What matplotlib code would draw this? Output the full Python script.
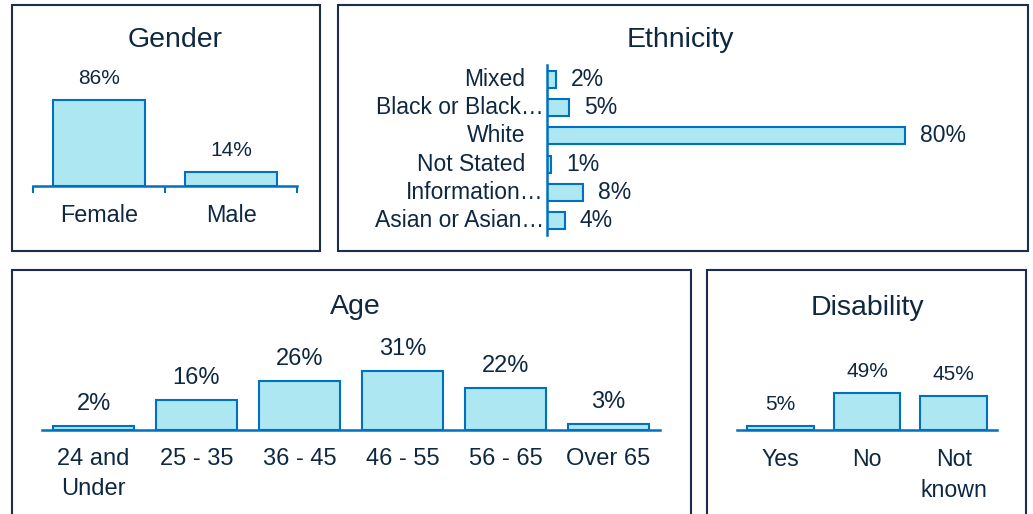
import matplotlib.pyplot as plt
from matplotlib.patches import Rectangle
from matplotlib.transforms import ScaledTranslation

plt.rcParams['font.family'] = ['Liberation Sans', 'DejaVu Sans']

gender_labels = ['Female', 'Male']
gender_values = [86, 14]

ethnicity_labels = ['Mixed', 'Black or Black…', 'White', 'Not Stated',
                    'Information…', 'Asian or Asian…']
ethnicity_values = [2, 5, 80, 1, 8, 4]

age_labels = ['24 and\nUnder', '25 - 35', '36 - 45', '46 - 55', '56 - 65', 'Over 65']
age_values = [2, 16, 26, 31, 22, 3]

disability_labels = ['Yes', 'No', 'Not\nknown']
disability_values = [5, 49, 45]

W, H = 1033, 514
TEXT = '#0E2841'
BOX = '#1B2D4F'
FILL = '#ADE8F2'
EDGE = '#0070C0'

fig = plt.figure(figsize=(W / 100, H / 100), dpi=100)


def px_axes(x0, y0, x1, y1):
	ax = fig.add_axes([x0 / W, 1 - y1 / H, (x1 - x0) / W, (y1 - y0) / H])
	ax.patch.set_alpha(0)
	return ax


def panel(x0, y0, x1, y1, title, tx, ty):
	fig.patches.append(Rectangle((x0 / W, 1 - y1 / H), (x1 - x0) / W, (y1 - y0) / H,
	                             transform=fig.transFigure, fill=False,
	                             edgecolor=BOX, linewidth=1.5))
	fig.text(tx / W, 1 - ty / H, title, ha='center', va='baseline',
	         fontsize=20.5, color=TEXT)


def column_chart(ax, labels, values, top, width, val_size, lab_size, lab_pad):
	x = list(range(len(values)))
	ax.bar(x, values, width=width, color=FILL, edgecolor=EDGE, linewidth=1.5)
	ax.set_xlim(-0.5, len(values) - 0.5)
	ax.set_ylim(0, top)
	for s in ['top', 'right', 'left']:
		ax.spines[s].set_visible(False)
	ax.spines['bottom'].set_color(EDGE)
	ax.spines['bottom'].set_linewidth(1.8)
	ax.set_yticks([])
	ax.set_xticks(x, labels)
	ax.tick_params(axis='x', length=0, pad=lab_pad, labelsize=lab_size, labelcolor=TEXT)
	for lab in ax.get_xticklabels():
		lab.set_linespacing(1.45)
	for xi, v in zip(x, values):
		ax.annotate(f'{v}%', (xi, v), xytext=(0, 11.5), textcoords='offset points',
		            ha='center', va='baseline', fontsize=val_size, color=TEXT)


# panels
panel(12, 5, 320, 251, 'Gender', 175, 47)
panel(338, 5, 1028, 251, 'Ethnicity', 680, 47)
panel(12, 270, 691, 530, 'Age', 355, 314)
panel(707, 270, 1026, 530, 'Disability', 867, 315)

# gender
ax = px_axes(33, 86, 297, 186)
column_chart(ax, gender_labels, gender_values, 100, 0.7, 15, 16.8, 13)
ax.set_xticks([-0.5, 0.5, 1.5], minor=True)
ax.tick_params(axis='x', which='minor', length=5, width=1.5, color=EDGE, direction='out')

# ethnicity
ax = px_axes(547, 65, 994, 235)
y = list(range(len(ethnicity_values)))
ax.barh(y, ethnicity_values, height=0.6, color=FILL, edgecolor=EDGE, linewidth=1.5)
ax.set_xlim(0, 100)
ax.set_ylim(len(y) - 0.5, -0.5)
for s in ['top', 'right', 'bottom']:
	ax.spines[s].set_visible(False)
ax.spines['left'].set_color(EDGE)
ax.spines['left'].set_linewidth(1.8)
ax.set_xticks([])
ax.set_yticks([])
for yi, lab in zip(y, ethnicity_labels):
	shift = -3 if lab.endswith('…') else -22
	tr = ax.get_yaxis_transform() + ScaledTranslation(shift / 100, 0, fig.dpi_scale_trans)
	ax.text(0, yi, lab, transform=tr, ha='right', va='center', fontsize=16.5, color=TEXT)
for yi, v in zip(y, ethnicity_values):
	ax.annotate(f'{v}%', (v, yi), xytext=(10.8, 0), textcoords='offset points',
	            ha='left', va='center', fontsize=16.5, color=TEXT)

# age
ax = px_axes(42, 354, 660, 430)
column_chart(ax, age_labels, age_values, 40, 0.78, 17, 17, 13)

# disability
ax = px_axes(737, 355, 997, 430)
column_chart(ax, disability_labels, disability_values, 100, 0.77, 15, 16.7, 12.6)

fig.savefig('out.png', dpi=100)
